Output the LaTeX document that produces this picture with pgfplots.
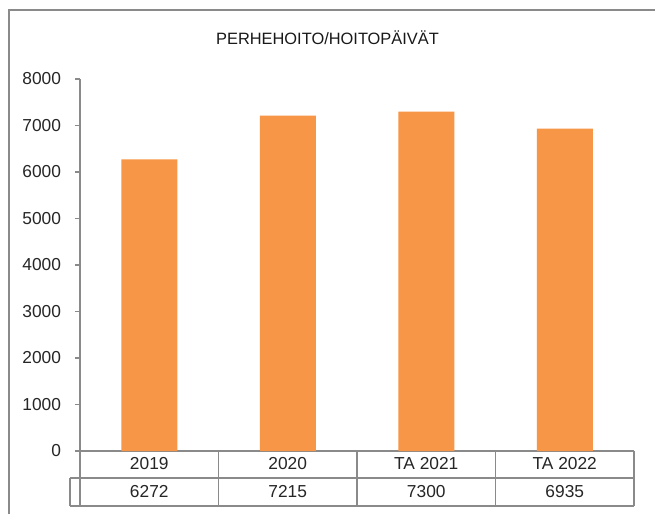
\documentclass[border=0pt]{standalone}
\usepackage{pgfplots}
\pgfplotsset{compat=1.18}
\usepackage{fontspec}
\setmainfont{Liberation Sans}
\definecolor{barorange}{HTML}{F79646}
\definecolor{linegray}{HTML}{8A8A8A}
\begin{document}
\begin{tikzpicture}
\useasboundingbox (0pt,0pt) rectangle (491.25pt,385.5pt);
\fill[white] (0pt,0pt) rectangle (491.25pt,385.5pt);
% outer frame
\draw[linegray, line width=1.6pt] (6.75pt,0pt) -- (6.75pt,378pt) -- (491.25pt,378pt);
\node[anchor=base, font=\fontsize{12.3}{14}\selectfont, text=black!90] at (245.6pt,351.75pt) {PERHEHOITO/HOITOPÄIVÄT};
\begin{axis}[
  at={(60pt,47.25pt)}, anchor=south west,
  scale only axis, width=415.5pt, height=279pt,
  xmin=-0.5, xmax=3.5, ymin=0, ymax=8000,
  ytick={0,1000,...,8000}, xtick=\empty,
  axis x line*=bottom, axis y line*=left,
  axis line style={linegray, line width=1.2pt},
  tick align=outside, major tick length=3.75pt,
  y tick style={linegray, line width=1.2pt},
  /pgf/number format/assume math mode=true,
  /pgf/number format/1000 sep={},
  scaled y ticks=false,
  yticklabel style={font=\fontsize{13}{15}\selectfont, text=black!85, xshift=-7pt},
  clip=false,
]
\addplot[ybar, bar width=42pt, fill=barorange, draw=none] coordinates {(0,6272) (1,7215) (2,7300) (3,6935)};
\end{axis}
% data table below the axis
\draw[linegray, line width=1.2pt] (60pt,47.25pt) -- (60pt,6pt);
\draw[linegray, line width=1.2pt] (52.5pt,27pt) -- (475.5pt,27pt);
\draw[linegray, line width=1.2pt] (52.5pt,6pt) -- (475.5pt,6pt);
\draw[linegray, line width=1.2pt] (52.5pt,27pt) -- (52.5pt,6pt);
\draw[linegray, line width=1.2pt] (475.5pt,47.25pt) -- (475.5pt,6pt);
\foreach \xx in {163.875,267.75,371.625} {\draw[linegray, line width=1.2pt] (\xx pt,47.25pt) -- (\xx pt,6pt);}
\foreach \xx/\lab/\val in {111.94/2019/6272, 215.81/2020/7215, 319.69/TA 2021/7300, 423.56/TA 2022/6935} {
  \node[anchor=base, font=\fontsize{13}{15}\selectfont, text=black!85] at (\xx pt,33.5pt) {\lab};
  \node[anchor=base, font=\fontsize{13}{15}\selectfont, text=black!85] at (\xx pt,12.75pt) {\val};
}
\end{tikzpicture}
\end{document}
